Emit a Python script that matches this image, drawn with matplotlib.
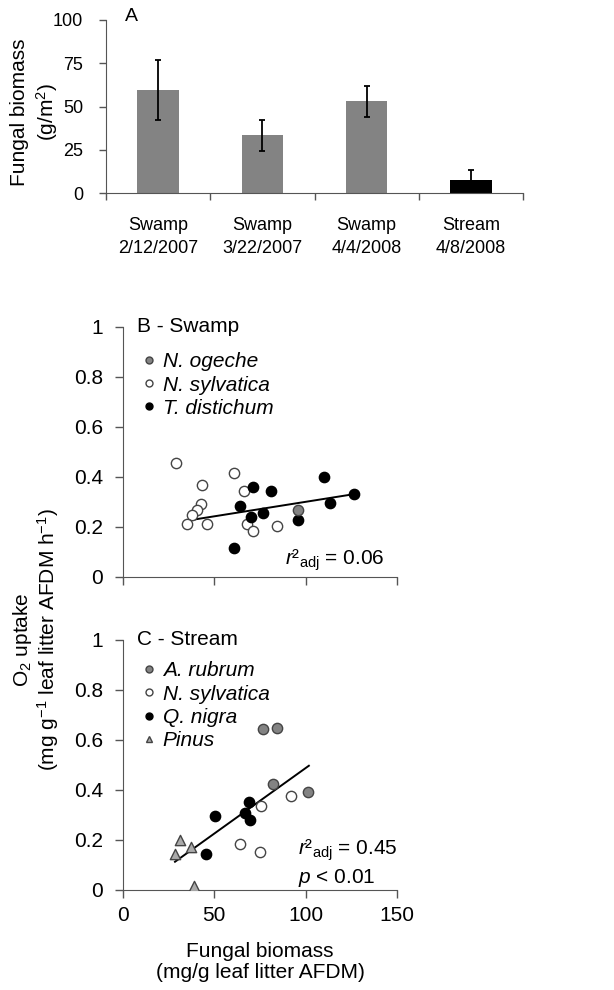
import matplotlib
matplotlib.use("Agg")
import matplotlib.pyplot as plt
from matplotlib.lines import Line2D

plt.rcParams['font.family'] = ['Liberation Sans', 'DejaVu Sans']
plt.rcParams['mathtext.fontset'] = 'custom'
plt.rcParams['mathtext.rm'] = 'Liberation Sans'
plt.rcParams['mathtext.it'] = 'Liberation Sans:italic'
plt.rcParams['mathtext.bf'] = 'Liberation Sans:bold'

# ---------------- data ----------------
a_categories = ["Swamp\n2/12/2007", "Swamp\n3/22/2007", "Swamp\n4/4/2008", "Stream\n4/8/2008"]
a_values = [59.5, 33.3, 53.0, 7.5]
a_errors = [17.5, 9.0, 9.0, 6.0]
a_colors = ["#838383", "#838383", "#838383", "#000000"]

# Panel B - Swamp
b_ogeche_x = [95.8]
b_ogeche_y = [0.267]
b_sylv_x = [29.2, 60.6, 43.6, 66.4, 42.9, 40.5, 37.8, 35.0, 46.3, 67.9, 71.0, 84.3]
b_sylv_y = [0.454, 0.416, 0.365, 0.343, 0.291, 0.267, 0.247, 0.211, 0.211, 0.211, 0.183, 0.203]
b_tax_x = [64.2, 71.2, 81.0, 70.1, 76.7, 61.1, 95.8, 109.9, 113.1, 126.3]
b_tax_y = [0.284, 0.360, 0.344, 0.237, 0.253, 0.116, 0.227, 0.397, 0.296, 0.331]
b_fit_x = [35.0, 126.3]
b_fit_y = [0.224, 0.330]

# Panel C - Stream
c_rubrum_x = [76.8, 84.2, 82.3, 101.4]
c_rubrum_y = [0.642, 0.647, 0.421, 0.389]
c_sylv_x = [92.3, 75.6, 64.1, 75.0]
c_sylv_y = [0.375, 0.335, 0.182, 0.149]
c_nigra_x = [69.2, 66.8, 69.6, 50.4, 45.5]
c_nigra_y = [0.349, 0.305, 0.278, 0.294, 0.142]
c_pinus_x = [31.3, 37.2, 28.6, 39.0]
c_pinus_y = [0.198, 0.171, 0.142, 0.015]
c_fit_x = [28.6, 101.8]
c_fit_y = [0.111, 0.495]

yticks_bc = [0, 0.2, 0.4, 0.6, 0.8, 1.0]
yticklabels_bc = ["0", "0.2", "0.4", "0.6", "0.8", "1"]
xticks_bc = [0, 50, 100, 150]

GRAY = "#838383"
AXC = '#555555'

fig = plt.figure(figsize=(6.14, 9.90), dpi=100)
W, H = 614, 990

def fax(l, r, t, b):
    return fig.add_axes([l / W, 1 - b / H, (r - l) / W, (b - t) / H])

# ---------------- Panel A ----------------
axA = fax(106, 523, 20, 193)
xs = range(len(a_values))
axA.bar(xs, a_values, width=0.4, color=a_colors, zorder=2)
axA.errorbar(xs, a_values, yerr=a_errors, fmt='none', ecolor='black',
             elinewidth=1.3, capsize=2.5, capthick=1.3, zorder=3)
axA.set_xlim(-0.5, 3.5)
axA.set_ylim(0, 100)
axA.set_yticks([0, 25, 50, 75, 100])
axA.set_xticks(list(xs))
axA.set_xticklabels(a_categories, fontsize=13, linespacing=1.45)
axA.set_xticks([-0.5, 0.5, 1.5, 2.5, 3.5], minor=True)
axA.tick_params(axis='x', which='major', length=0, pad=17.5)
axA.tick_params(axis='x', which='minor', length=5, width=1, color=AXC)
axA.tick_params(axis='y', length=5, width=1, color=AXC, labelsize=13, pad=11.5)
for s in ['top', 'right']:
    axA.spines[s].set_visible(False)
for s in ['left', 'bottom']:
    axA.spines[s].set_color(AXC)
fig.text(35 / W, 1 - 112 / H, "Fungal biomass\n(g/m$^2$)", rotation=90,
         ha='center', va='center', fontsize=15, linespacing=1.25)
axA.text(0.045, 1.02, "A", transform=axA.transAxes, fontsize=14, va='center', ha='left')

# ---------------- Panels B and C ----------------
def style_bc(ax, show_xlabels):
    ax.set_xlim(0, 150)
    ax.set_ylim(0, 1)
    ax.set_yticks(yticks_bc)
    ax.set_yticklabels(yticklabels_bc)
    ax.set_xticks(xticks_bc)
    if not show_xlabels:
        ax.set_xticklabels([])
    ax.tick_params(length=6, width=1, color=AXC, labelsize=15)
    ax.tick_params(axis='y', pad=8)
    ax.tick_params(axis='x', pad=6)
    for s in ['top', 'right']:
        ax.spines[s].set_visible(False)
    for s in ['left', 'bottom']:
        ax.spines[s].set_color(AXC)

MS = 55
LEG = dict(loc='upper left', frameon=False, handlelength=0.6,
           handletextpad=0.35, labelspacing=0.2, borderaxespad=0, borderpad=0,
           prop={'size': 15, 'style': 'italic'})

axB = fax(122.7, 397, 326.7, 576.7)
style_bc(axB, False)
axB.plot(b_fit_x, b_fit_y, color='black', lw=1.4, zorder=2)
axB.scatter(b_sylv_x, b_sylv_y, s=MS, facecolor='white', edgecolor='#444444', linewidth=1, zorder=3)
axB.scatter(b_tax_x, b_tax_y, s=MS, facecolor='black', edgecolor='black', linewidth=1, zorder=3)
axB.scatter(b_ogeche_x, b_ogeche_y, s=MS, facecolor=GRAY, edgecolor='#444444', linewidth=1, zorder=4)
axB.text(0.052, 1.0, "B - Swamp", transform=axB.transAxes, fontsize=15, va='center', ha='left')
hB = [Line2D([], [], ls='none', marker='o', ms=5, mfc=GRAY, mec='#444444'),
      Line2D([], [], ls='none', marker='o', ms=5, mfc='white', mec='#444444'),
      Line2D([], [], ls='none', marker='o', ms=5, mfc='black', mec='black')]
axB.legend(hB, ["N. ogeche", "N. sylvatica", "T. distichum"],
           bbox_to_anchor=(0.074, 0.897), **LEG)
axB.text(0.592, 0.047, r"$r$²$_{\mathrm{adj}}$ = 0.06", transform=axB.transAxes,
         fontsize=15, ha='left', va='baseline')

axC = fax(122.7, 397, 639.5, 889.5)
style_bc(axC, True)
axC.plot(c_fit_x, c_fit_y, color='black', lw=1.4, zorder=2)
axC.scatter(c_sylv_x, c_sylv_y, s=MS, facecolor='white', edgecolor='#444444', linewidth=1, zorder=3)
axC.scatter(c_nigra_x, c_nigra_y, s=MS, facecolor='black', edgecolor='black', linewidth=1, zorder=3)
axC.scatter(c_rubrum_x, c_rubrum_y, s=MS, facecolor=GRAY, edgecolor='#444444', linewidth=1, zorder=3)
axC.scatter(c_pinus_x, c_pinus_y, s=MS, marker='^', facecolor='#aaaaaa', edgecolor='#444444', linewidth=1, zorder=3)
axC.text(0.052, 1.0, "C - Stream", transform=axC.transAxes, fontsize=15, va='center', ha='left')
hC = [Line2D([], [], ls='none', marker='o', ms=5, mfc=GRAY, mec='#444444'),
      Line2D([], [], ls='none', marker='o', ms=5, mfc='white', mec='#444444'),
      Line2D([], [], ls='none', marker='o', ms=5, mfc='black', mec='black'),
      Line2D([], [], ls='none', marker='^', ms=5, mfc='#aaaaaa', mec='#444444')]
axC.legend(hC, ["A. rubrum", "N. sylvatica", "Q. nigra", "Pinus"],
           bbox_to_anchor=(0.074, 0.912), **LEG)
axC.text(0.639, 0.138, r"$r$²$_{\mathrm{adj}}$ = 0.45", transform=axC.transAxes,
         fontsize=15, ha='left', va='baseline')
axC.text(0.639, 0.026, r"$p$ < 0.01", transform=axC.transAxes,
         fontsize=15, ha='left', va='baseline')

fig.text(260 / W, 1 - 962 / H, "Fungal biomass\n(mg/g leaf litter AFDM)",
         ha='center', va='center', fontsize=15, linespacing=1.15)
fig.text(36 / W, 1 - 640 / H, "O$_2$ uptake\n(mg g$^{-1}$ leaf litter AFDM h$^{-1}$)",
         rotation=90, ha='center', va='center', fontsize=15, linespacing=1.1)

fig.savefig("out.png", dpi=100)
